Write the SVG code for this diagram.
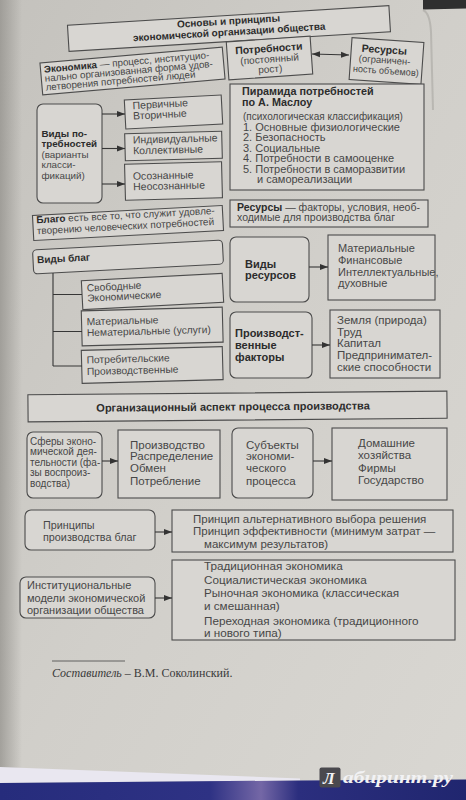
<svg xmlns="http://www.w3.org/2000/svg" width="466" height="800" viewBox="0 0 466 800">
<defs>
<linearGradient id="pg" x1="0" y1="0" x2="1" y2="1">
<stop offset="0" stop-color="#c4c2bd"/>
<stop offset="0.5" stop-color="#d1cfca"/>
<stop offset="1" stop-color="#d9d7d2"/>
</linearGradient>
<linearGradient id="lf" x1="0" y1="0" x2="1" y2="0">
<stop offset="0" stop-color="#8f8d88" stop-opacity="0.7"/>
<stop offset="1" stop-color="#8f8d88" stop-opacity="0"/>
</linearGradient>
<linearGradient id="bl" x1="0" y1="0" x2="1" y2="0">
<stop offset="0" stop-color="#262c7c"/>
<stop offset="0.45" stop-color="#2e3284"/>
<stop offset="0.56" stop-color="#7467a6"/>
<stop offset="0.64" stop-color="#2b2e7e"/>
<stop offset="1" stop-color="#20266f"/>
</linearGradient>
<marker id="ah" viewBox="0 0 10 10" refX="10" refY="5" markerWidth="8" markerHeight="8" markerUnits="userSpaceOnUse" orient="auto-start-reverse">
<path d="M0,1.2 L10,5 L0,8.8 z" fill="#333"/>
</marker>
</defs>
<style>
.b{fill:#d8d6d2;stroke:#4c4c4c;stroke-width:1.1}
.t{font-family:"Liberation Sans",Arial,sans-serif;fill:#474747}
.bd{font-weight:bold;fill:#2c2c2c}
.c{stroke:#363636;stroke-width:1.1;fill:none}
.a{marker-end:url(#ah)}
.s10{font-size:10px}
.s11{font-size:11px}
.s115{font-size:11.5px}
</style>

<rect x="0" y="0" width="466" height="800" fill="url(#pg)"/>
<rect x="0" y="0" width="22" height="780" fill="url(#lf)"/>
<polygon points="423,0 466,0 466,8.5 423,9.5" fill="#2f2f2f"/>
<path d="M423,10 Q430,13 431,32 L433,110" stroke="#a9a7a2" stroke-width="2" fill="none" opacity="0.6"/>

<g id="title" transform="translate(229,29) rotate(-3.5)">
<rect class="b" x="-161" y="-13.5" width="322" height="26"/>
<text class="t bd" font-size="10" text-anchor="middle"><tspan x="0" y="-4.5">Основы и принципы</tspan><tspan x="0" y="6.5">экономической организации общества</tspan></text>
</g>

<g id="economy" transform="translate(132.5,71) rotate(-5)">
<rect class="b" x="-91.5" y="-16" width="183" height="32"/>
<text class="t" font-size="9.8" x="-88" y="-6"><tspan class="bd">Экономика</tspan> — процесс, институцио-</text>
<text class="t" font-size="9.8" x="-88" y="3">нально организованная форма удов-</text>
<text class="t" font-size="9.8" x="-88" y="12">летворения потребностей людей</text>
</g>

<g id="needs" transform="translate(269.5,58) rotate(-4)">
<rect class="b" x="-42" y="-19" width="84" height="38"/>
<text class="t bd" font-size="10.5" text-anchor="middle" x="0" y="-6">Потребности</text>
<text class="t s10" text-anchor="middle" x="0" y="4.5">(постоянный</text>
<text class="t s10" text-anchor="middle" x="0" y="14.5">рост)</text>
</g>

<g id="resources" transform="translate(386.5,61) rotate(4)">
<rect class="b" x="-36" y="-21" width="72" height="42"/>
<text class="t bd" font-size="10.5" text-anchor="middle" x="-3" y="-7.5">Ресурсы</text>
<text class="t" font-size="9.5" text-anchor="middle" x="-2" y="2.5">(ограничен-</text>
<text class="t" font-size="9.5" text-anchor="middle" x="0" y="13" textLength="66" lengthAdjust="spacingAndGlyphs">ность объемов)</text>
</g>

<g id="maslow">
<rect class="b" x="230" y="84" width="194" height="106"/>
<text class="t bd" font-size="10.8" x="242" y="94.5">Пирамида потребностей</text>
<text class="t bd" font-size="10.8" x="242" y="105.5">по А. Маслоу</text>
<text class="t s10" x="243" y="119.5">(психологическая классификация)</text>
<text class="t s11" x="243" y="130.5">1. Основные физиологические</text>
<text class="t s11" x="243" y="141">2. Безопасность</text>
<text class="t s11" x="243" y="151.5">3. Социальные</text>
<text class="t s11" x="243" y="162">4. Потребности в самооценке</text>
<text class="t s11" x="243" y="172.5">5. Потребности в саморазвитии</text>
<text class="t s11" x="257" y="183">и самореализации</text>
</g>

<g id="needs-types">
<rect class="b" x="37" y="104" width="65" height="99" rx="6"/>
<text class="t bd" font-size="9.8" x="41.5" y="137">Виды по-</text>
<text class="t bd" font-size="9.8" x="41.5" y="146.5">требностей</text>
<text class="t" font-size="9.8" x="41.5" y="157.5">(варианты</text>
<text class="t" font-size="9.8" x="41.5" y="168">класси-</text>
<text class="t" font-size="9.8" x="41.5" y="178.5">фикаций)</text>
</g>

<g id="primary" transform="translate(173.5,112) rotate(-3)">
<rect class="b" x="-48.5" y="-14.5" width="97" height="29"/>
<text class="t" font-size="10.5" x="-40.5" y="-5">Первичные</text>
<text class="t" font-size="10.5" x="-40.5" y="5.5">Вторичные</text>
</g>

<g id="individual" transform="translate(173.5,146) rotate(-1.5)">
<rect class="b" x="-48.5" y="-13.5" width="97" height="27"/>
<text class="t" font-size="10.5" x="-40.5" y="-3.5">Индивидуальные</text>
<text class="t" font-size="10.5" x="-40.5" y="7.3">Коллективные</text>
</g>

<g id="conscious" transform="translate(173.5,181) rotate(-1.5)">
<rect class="b" x="-48.5" y="-18" width="97" height="36"/>
<text class="t" font-size="10.5" x="-40.5" y="-2.2">Осознанные</text>
<text class="t" font-size="10.5" x="-40.5" y="8.3">Неосознанные</text>
</g>

<g id="good" transform="translate(128,223) rotate(-3)">
<rect class="b" x="-95" y="-12.5" width="190" height="25"/>
<text class="t s10" x="-91.5" y="-4.5"><tspan class="bd">Благо</tspan> есть все то, что служит удовле-</text>
<text class="t s10" x="-91.5" y="6.5">творению человеческих потребностей</text>
</g>

<g id="resources-def">
<rect class="b" x="230" y="200" width="198" height="27"/>
<text class="t" font-size="10.5" x="237" y="210.5"><tspan class="bd">Ресурсы</tspan> — факторы, условия, необ-</text>
<text class="t" font-size="10.5" x="237" y="221">ходимые для производства благ</text>
</g>

<g id="goods-types" transform="translate(128,257) rotate(-3)">
<rect class="b" x="-95" y="-12" width="190" height="24" rx="4"/>
<text class="t bd s10" x="-91" y="1.5">Виды благ</text>
</g>

<g id="free" transform="translate(152.5,291.5) rotate(-3)">
<rect class="b" x="-70.5" y="-14.5" width="141" height="29"/>
<text class="t" font-size="10.3" x="-65.5" y="-3.4">Свободные</text>
<text class="t" font-size="10.3" x="-65.5" y="6.8">Экономические</text>
</g>

<g id="material" transform="translate(152.2,326.5) rotate(-1.5)">
<rect class="b" x="-70.5" y="-17.5" width="141" height="35"/>
<text class="t" font-size="10.3" x="-65.5" y="-3">Материальные</text>
<text class="t" font-size="10.3" x="-65.5" y="8">Нематериальные (услуги)</text>
</g>

<g id="consumer" transform="translate(152.2,365) rotate(-1.5)">
<rect class="b" x="-70.5" y="-16.5" width="141" height="33"/>
<text class="t" font-size="10.3" x="-65.5" y="-3.3">Потребительские</text>
<text class="t" font-size="10.3" x="-65.5" y="8.4">Производственные</text>
</g>

<g id="resource-types">
<rect class="b" x="230" y="237" width="79" height="65" rx="6"/>
<text class="t bd s11" x="245" y="268">Виды</text>
<text class="t bd s11" x="245" y="279">ресурсов</text>
</g>

<g id="resource-list">
<rect class="b" x="328" y="235" width="107" height="65"/>
<text class="t s11" x="338" y="252">Материальные</text>
<text class="t s11" x="338" y="264">Финансовые</text>
<text class="t s11" x="338" y="275.5">Интеллектуальные,</text>
<text class="t s11" x="338" y="287">духовные</text>
</g>

<g id="factors">
<rect class="b" x="230" y="312" width="82" height="66" rx="6"/>
<text class="t bd s11" x="235" y="337">Производст-</text>
<text class="t bd s11" x="235" y="349">венные</text>
<text class="t bd s11" x="235" y="360.5">факторы</text>
</g>

<g id="factor-list">
<rect class="b" x="330" y="310" width="110" height="68"/>
<text class="t s115" x="337" y="324">Земля (природа)</text>
<text class="t s115" x="337" y="335.5">Труд</text>
<text class="t s115" x="337" y="347">Капитал</text>
<text class="t s115" x="337" y="359">Предпринимател-</text>
<text class="t s115" x="337" y="371">ские способности</text>
</g>

<g id="org-aspect" transform="translate(237.5,406.5) rotate(-0.5)">
<rect class="b" x="-209.5" y="-13.5" width="419" height="27"/>
<text class="t bd s11" text-anchor="middle" x="-4.5" y="4">Организационный аспект процесса производства</text>
</g>

<g id="spheres">
<rect class="b" x="27" y="432" width="75" height="66" rx="6"/>
<text class="t s10" x="30" y="444.5">Сферы эконо-</text>
<text class="t s10" x="30" y="455">мической дея-</text>
<text class="t s10" x="30" y="465.5">тельности (фа-</text>
<text class="t s10" x="30" y="476">зы воспроиз-</text>
<text class="t s10" x="30" y="486.5">водства)</text>
</g>

<g id="phases">
<rect class="b" x="118" y="430" width="102" height="68"/>
<text class="t s115" x="130" y="448.5">Производство</text>
<text class="t s115" x="130" y="460">Распределение</text>
<text class="t s115" x="130" y="472">Обмен</text>
<text class="t s115" x="130" y="484.5">Потребление</text>
</g>

<g id="subjects">
<rect class="b" x="232" y="428" width="81" height="70" rx="6"/>
<text class="t s115" x="246" y="448.5">Субъекты</text>
<text class="t s115" x="246" y="460">экономи-</text>
<text class="t s115" x="246" y="472">ческого</text>
<text class="t s115" x="246" y="484.5">процесса</text>
</g>

<g id="subject-list">
<rect class="b" x="332" y="428" width="115" height="72"/>
<text class="t s115" x="358" y="446.5">Домашние</text>
<text class="t s115" x="358" y="458.5">хозяйства</text>
<text class="t s115" x="358" y="471.5">Фирмы</text>
<text class="t s115" x="358" y="484">Государство</text>
</g>

<g id="principles">
<rect class="b" x="25" y="510" width="130" height="40" rx="6"/>
<text class="t" font-size="10.8" x="43" y="528.5">Принципы</text>
<text class="t" font-size="10.8" x="43" y="540.5">производства благ</text>
</g>

<g id="principle-list">
<rect class="b" x="172" y="510" width="281" height="42"/>
<text class="t s115" x="193" y="522.5">Принцип альтернативного выбора решения</text>
<text class="t s115" x="193" y="535">Принцип эффективности (минимум затрат —</text>
<text class="t s115" x="204" y="548">максимум результатов)</text>
</g>

<g id="models">
<rect class="b" x="20" y="577" width="135" height="41" rx="6"/>
<text class="t s11" x="27" y="589">Институциональные</text>
<text class="t s11" x="27" y="601.5">модели экономической</text>
<text class="t s11" x="27" y="613.5">организации общества</text>
</g>

<g id="model-list">
<rect class="b" x="172" y="560" width="283" height="80"/>
<text class="t" font-size="11.7" x="204" y="569.5">Традиционная экономика</text>
<text class="t" font-size="11.7" x="204" y="583.5">Социалистическая экономика</text>
<text class="t" font-size="11.7" x="204" y="596.5">Рыночная экономика (классическая</text>
<text class="t" font-size="11.7" x="204" y="610">и смешанная)</text>
<text class="t" font-size="11.7" x="204" y="625">Переходная экономика (традиционного</text>
<text class="t" font-size="11.7" x="204" y="636.5">и нового типа)</text>
</g>

<g id="connectors">
<path class="c" d="M312,54 L349,55" marker-start="url(#ah)" marker-end="url(#ah)"/>
<path class="c a" d="M102,114 H125"/>
<path class="c a" d="M102,148.5 H125"/>
<path class="c a" d="M102,184 H125"/>
<path class="c" d="M53,273 V366 M53,294.5 H82 M53,331.5 H82 M53,366 H82"/>
<path class="c a" d="M309,267 H328"/>
<path class="c a" d="M312,345 H330"/>
<path class="c a" d="M102,461 H118"/>
<path class="c a" d="M313,461 H332"/>
<path class="c a" d="M155,532 H172"/>
<path class="c a" d="M155,598 H172"/>
</g>

<g id="footer">
<path d="M52,661 H125" stroke="#444" stroke-width="0.8"/>
<text x="52" y="677" font-family="'Liberation Serif','Times New Roman',serif" font-size="12" fill="#3a3a3a"><tspan font-style="italic">Составитель</tspan> – В.М. Соколинский.</text>
</g>

<g id="photo-edge">
<polygon points="0,767 300,778.5 300,780.5 0,783" fill="#e9e7f0"/>
<polygon points="0,783 300,780.5 466,779.5 466,800 0,800" fill="url(#bl)"/>
<rect x="319.5" y="767.5" width="21" height="20" rx="2" fill="#4a494e"/>
<text x="323" y="784" font-family="'Liberation Serif',serif" font-weight="bold" font-style="italic" font-size="17" fill="#f2f2f4">Л</text>
<text x="343" y="783" font-family="'Liberation Serif',serif" font-weight="bold" font-style="italic" font-size="17" fill="#f2f2f4" textLength="110" lengthAdjust="spacingAndGlyphs">абиринт.ру</text>
</g>
</svg>
